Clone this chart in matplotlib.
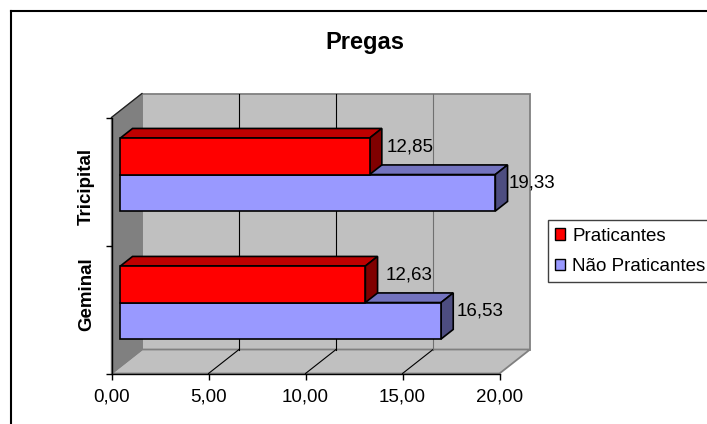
import matplotlib
matplotlib.use("Agg")
import matplotlib.pyplot as plt
from matplotlib.lines import Line2D
from matplotlib.patches import Patch, Polygon
from matplotlib.transforms import ScaledTranslation

categories = ["Geminal", "Tricipital"]
series_names = ["Praticantes", "Não Praticantes"]
praticantes = [12.63, 12.85]
nao_praticantes = [16.53, 19.33]
x_ticks = [0, 5, 10, 15, 20]

W, H = 707, 424
plt.rcParams["font.family"] = ["Liberation Sans", "DejaVu Sans"]
FS = 13.5
fig = plt.figure(figsize=(W / 100, H / 100), dpi=100, facecolor="white")

# front plane of the 3D box, in pixels
L, R, T, B = 111.5, 499.5, 117.5, 373.5
ax = fig.add_axes([L / W, 1 - B / H, (R - L) / W, (B - T) / H])
ax.set_xlim(0, 20)
ax.set_ylim(0, 2)
ax.patch.set_visible(False)
for s in ("top", "right"):
    ax.spines[s].set_visible(False)
for s in ("left", "bottom"):
    ax.spines[s].set_linewidth(1.0)

UX = (R - L) / 20
UY = (B - T) / 2
DEPTH_X = 30.5 / UX   # horizontal shift of the full box depth, data units
DEPTH_Y = 24 / UY     # vertical shift of the full box depth, data units


def pt(x, y, d):
    """Project a point at depth d (0 = front, 1 = back) onto the axes."""
    return (x + d * DEPTH_X, y + d * DEPTH_Y)


def face(points, color, edge="none", lw=0.0, z=1):
    ax.add_patch(Polygon(points, closed=True, facecolor=color, edgecolor=edge,
                         linewidth=lw, zorder=z, clip_on=False,
                         joinstyle="miter"))


GREY = "#C0C0C0"
EDGE = "#808080"

# walls and floor
face([pt(0, 0, 1), pt(20, 0, 1), pt(20, 2, 1), pt(0, 2, 1)], GREY, EDGE, 1.3, 1)
face([pt(0, 0, 0), pt(20, 0, 0), pt(20, 0, 1), pt(0, 0, 1)], GREY, EDGE, 1.3, 1.1)
face([pt(0, 0, 0), pt(0, 0, 1), pt(0, 2, 1), pt(0, 2, 0)], "#808080", EDGE, 1.0, 1.1)
ax.plot(*zip(pt(0, 2, 0), pt(0, 2, 1)), color="#202020", lw=0.9, zorder=1.2, clip_on=False)

# gridlines: diagonal on the floor, vertical on the back wall
wall_line_colors = ["black", "black", "#707070"]
for v, wall_color in zip(x_ticks[1:-1], wall_line_colors):
    ax.plot(*zip(pt(v, 0, 0), pt(v, 0, 1)), color="black", lw=0.8,
            zorder=1.3, clip_on=False)
    ax.plot(*zip(pt(v, 0, 1), pt(v, 2, 1)), color=wall_color, lw=0.8,
            zorder=1.3, clip_on=False)


def bar3d(value, y0, y1, front, top, side, d0=0.29, d1=0.69):
    ek = dict(edge="black", lw=1.2, z=3)
    face([pt(0, y1, d0), pt(value, y1, d0), pt(value, y1, d1), pt(0, y1, d1)], top, **ek)
    face([pt(value, y0, d0), pt(value, y0, d1), pt(value, y1, d1), pt(value, y1, d0)], side, **ek)
    face([pt(0, y0, d0), pt(value, y0, d0), pt(value, y1, d0), pt(0, y1, d0)], front, **ek)


BAR_H = 36.5 / UY
RED = ("#FF0000", "#BF0000", "#800000")
LAV = ("#9999FF", "#7373BF", "#4D4D80")
# horizontal nudges of the value labels, in pixels
nudge_red = [20, 17]
nudge_lav = [16, 13]

fmt = lambda v: f"{v:.2f}".replace(".", ",")


def value_label(value, y, dx):
    p = pt(value, y, 0.29)
    ax.annotate(fmt(value), xy=p, xytext=(dx * 0.72, 9.5 * 0.72),
                textcoords="offset points", ha="left", va="center",
                fontsize=FS, color="black", zorder=6, annotation_clip=False)


for i in range(len(categories)):
    c = i + 0.5
    bar3d(nao_praticantes[i], c - BAR_H, c, *LAV)
    bar3d(praticantes[i], c, c + BAR_H, *RED)
    value_label(praticantes[i], c + BAR_H / 2, nudge_red[i])
    value_label(nao_praticantes[i], c - BAR_H / 2, nudge_lav[i])

# axis ticks and labels
ax.set_xticks(x_ticks, [fmt(float(v)) for v in x_ticks], fontsize=FS)
ax.set_yticks([0, 1, 2], [])
ax.tick_params(axis="both", length=4, width=1.0, pad=7)

# category labels, slightly off the tick-interval centres
cat_offsets = [15, -5]
for i, name in enumerate(categories):
    off = ScaledTranslation(0, cat_offsets[i] / 100, fig.dpi_scale_trans)
    ax.text(-25 / UX, i + 0.5, name, rotation=90, ha="center", va="center",
            fontsize=FS, fontweight="bold", clip_on=False,
            transform=ax.transData + off)

fig.text(365 / W, 1 - 49 / H, "Pregas", ha="center", va="baseline",
         fontsize=17, fontweight="bold")

# chart area border: only the top and left edges fall inside the canvas
for xs, ys in (([11, 11], [H, 11]), ([11, W], [11, 11])):
    fig.add_artist(Line2D([x / W for x in xs], [1 - y / H for y in ys],
                          color="black", lw=1.5))

handles = [Patch(facecolor=RED[0], edgecolor="black", linewidth=1.0),
           Patch(facecolor=LAV[0], edgecolor="black", linewidth=1.0)]
leg = fig.legend(handles, series_names, loc="upper left",
                 bbox_to_anchor=(547.5 / W, 1 - 220.5 / H), borderaxespad=0,
                 fontsize=FS, frameon=True, fancybox=False,
                 edgecolor="#404040", framealpha=1, handlelength=0.53,
                 handleheight=0.53, handletextpad=0.42, labelspacing=0.70,
                 borderpad=0.38)
leg.get_frame().set_linewidth(1.0)

fig.savefig("out.png", dpi=100)
